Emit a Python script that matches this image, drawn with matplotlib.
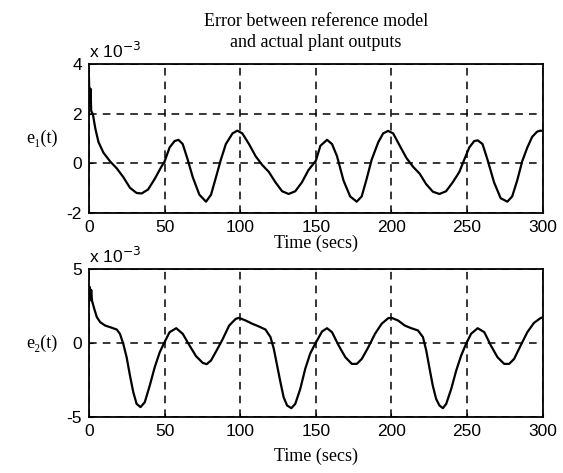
import numpy as np
import matplotlib
matplotlib.use("Agg")
import matplotlib.pyplot as plt

####################################################################################
# Data (values in units of 1e-3)

t1 = [0, 0.5, 1, 1.5, 2.6, 4.2, 6.3, 9.6, 14, 18.4, 22.7, 27.1, 31.5, 34.8, 39.1, 43.5, 47.9,
      50, 53.3, 56.6, 59.2, 62, 65.3, 68.6, 73, 77.4, 80.7, 84, 87.2, 90.5, 94.9, 98.1, 101.4,
      105.8, 110.2, 114.5, 118.9, 123.3, 127.7, 132, 136.4, 140.8, 145.1, 150, 153, 157.4,
      160.7, 164, 168.3, 172.7, 177, 180.3, 183.6, 186.9, 191.3, 194.5, 197.8, 201.1, 205.5,
      209.9, 214.2, 218.6, 223, 227.4, 231.7, 236.1, 240.5, 244.9, 248.1, 251.4, 254.7, 257,
      260.2, 263.5, 267.8, 272.2, 276.6, 279.8, 283.1, 286.4, 289.8, 293, 296.3, 298.5, 300]
e1 = [3.45, 2.3, 3.0, 2.1, 1.97, 1.4, 0.85, 0.42, 0.07, -0.21, -0.56, -0.99, -1.2, -1.22, -1.06,
      -0.63, -0.14, 0.07, 0.63, 0.89, 0.94, 0.77, 0.14, -0.56, -1.27, -1.55, -1.27, -0.56, 0.14,
      0.77, 1.2, 1.31, 1.2, 0.77, 0.28, -0.07, -0.35, -0.77, -1.13, -1.24, -1.13, -0.77, -0.28,
      0.1, 0.7, 0.94, 0.77, 0.28, -0.7, -1.34, -1.55, -1.34, -0.63, 0.14, 0.85, 1.2, 1.3, 1.2,
      0.7, 0.21, -0.14, -0.42, -0.85, -1.15, -1.24, -1.13, -0.77, -0.35, 0.14, 0.63, 0.89, 0.92,
      0.77, 0.14, -0.77, -1.41, -1.55, -1.34, -0.7, 0.07, 0.63, 1.06, 1.27, 1.31, 1.3]

t2 = [0, 0.5, 1, 1.5, 2, 3.5, 5.2, 7.4, 10.7, 14, 18.4, 20.5, 22.7, 24.9, 27.1, 29.3, 31.5, 34.1,
      36.9, 40.2, 43.5, 46.8, 50, 53.3, 57.7, 62, 66.5, 70.8, 75.2, 77.8, 80.7, 85, 88.3, 92.7,
      97, 99.2, 103.6, 108, 112.3, 116.7, 120, 122.2, 124.4, 126.6, 128.7, 131, 133.8, 136.4,
      139.7, 143, 146.2, 149.5, 150.8, 154.1, 157.4, 160.7, 165.1, 169.5, 173.8, 177.1, 180.4,
      184.7, 189.1, 193.5, 197.9, 200.1, 204.4, 208.8, 213.1, 217.5, 220.8, 223, 225.2, 227.3,
      229.5, 231.7, 234, 236.2, 239.5, 242.8, 246.1, 249.3, 252.6, 257, 261.4, 265.7, 270.1,
      274.5, 277.8, 281.1, 285.4, 289.8, 294.2, 298.5, 300]
e2 = [3.0, 3.8, 2.9, 3.6, 2.88, 2.32, 1.76, 1.42, 1.19, 1.08, 0.92, 0.63, -0.05, -0.95, -2.18,
      -3.31, -4.1, -4.32, -3.99, -2.86, -1.62, -0.61, 0.07, 0.74, 1.01, 0.63, -0.16, -0.88, -1.33,
      -1.42, -1.17, -0.38, 0.25, 1.19, 1.64, 1.71, 1.53, 1.31, 1.13, 0.92, 0.41, -0.38, -1.51,
      -2.64, -3.65, -4.21, -4.39, -4.1, -3.09, -1.73, -0.72, -0.05, 0.18, 0.79, 1.01, 0.74, -0.16,
      -0.95, -1.4, -1.4, -1.06, -0.27, 0.63, 1.31, 1.69, 1.71, 1.53, 1.19, 1.01, 0.86, 0.41, -0.5,
      -1.73, -2.86, -3.76, -4.21, -4.39, -4.1, -3.09, -1.85, -0.83, -0.05, 0.63, 1.01, 0.74,
      -0.16, -0.95, -1.4, -1.4, -1.06, -0.16, 0.74, 1.37, 1.69, 1.75]

xticks = [0, 50, 100, 150, 200, 250, 300]
yticks1 = [-2, 0, 2, 4]
yticks2 = [-5, 0, 5]

####################################################################################

plt.rcParams['axes.unicode_minus'] = False
plt.rcParams['font.family'] = ['Liberation Sans', 'DejaVu Sans']

serif = ['Liberation Serif', 'DejaVu Serif']

fig = plt.figure(figsize=(5.63, 4.73), dpi=100)

ax1 = fig.add_axes([0.158, 0.550, 0.806, 0.315])
ax2 = fig.add_axes([0.158, 0.118, 0.806, 0.313])

for ax, t, e, yt, lab, lp in [(ax1, t1, e1, yticks1, "e\u2081(t)", 0), (ax2, t2, e2, yticks2, "e\u2082(t)", 6)]:

    ax.plot(t, e, color='black', lw=1.6)

    ax.set_xlim(0, 300)
    ax.set_ylim(yt[0], yt[-1])
    ax.set_xticks(xticks)
    ax.set_yticks(yt)

    ax.grid(True, color='black', linestyle=(0, (5, 4)), lw=1.1)
    ax.tick_params(direction='in', length=3, width=0.8, labelsize=12.5, pad=5)

    for s in ax.spines.values():
        s.set_linewidth(1.3)

    ax.set_xlabel('Time (secs)', family=serif, fontsize=13, labelpad=lp)
    ax.set_ylabel(lab, family=serif, fontsize=13, rotation=0, labelpad=18, va='center')

    ax.text(0.0, 1.02, "x 10$^{-3}$", transform=ax.transAxes, ha='left', va='bottom', fontsize=12.5)

ax1.set_title("Error between reference model\nand actual plant outputs", family=serif, fontsize=13,
              pad=12, linespacing=1.35)

plt.savefig('out.png', dpi=100)
